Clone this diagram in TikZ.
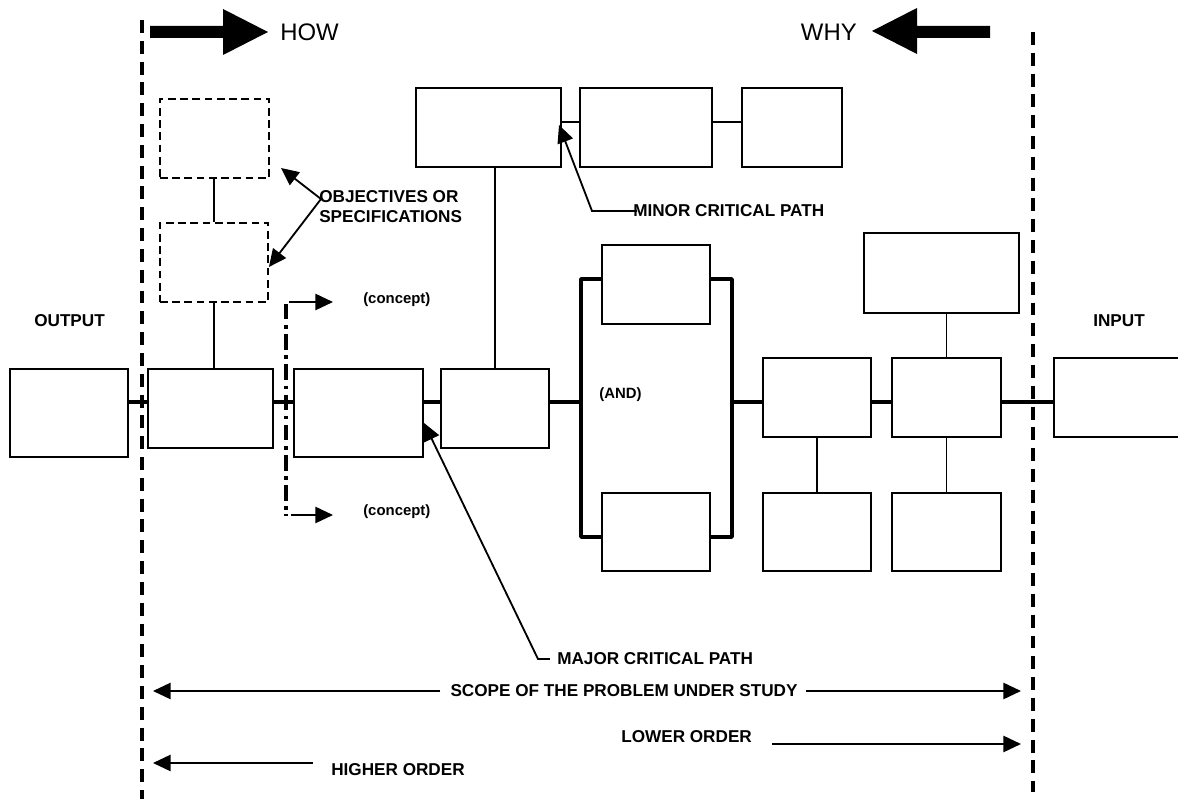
\documentclass[tikz,border=0pt]{standalone}
\usepackage{fontspec}
\setmainfont{Liberation Sans}
\usetikzlibrary{arrows.meta,fit}
\newcommand\lblfont{\fontsize{12.2}{14.2}\selectfont\bfseries}
\newcommand\cptfont{\fontsize{10.6}{12}\selectfont\bfseries}
\newcommand\hwfont{\fontsize{17}{20}\selectfont}
\begin{document}
\begin{tikzpicture}[x=0.025cm,y=-0.025cm,
  box/.style={draw, line width=1.5pt, inner sep=0pt},
  dbox/.style={draw, line width=1.3pt, inner sep=0pt, dash pattern=on 5.5pt off 3.2pt},
  lbl/.style={font=\lblfont, inner sep=0pt},
  cpt/.style={font=\cptfont, inner sep=0pt},
  hw/.style={font=\hwfont, inner sep=0pt},
  link/.style={line width=1.4pt},
  mainlink/.style={line width=2.6pt},
  ptr/.style={line width=1.3pt, -{Triangle[length=12.5pt,width=11.5pt]}},
  border/.style={line width=2.5pt, dash pattern=on 9.2pt off 5.6pt},
]
\useasboundingbox (0,0) rectangle (1178,799);
\fill[white] (0,0) rectangle (1178,799);
\clip (0,0) rectangle (1178,799);

% boundary dashed lines
\draw[border] (142,20) -- (142,799);
\draw[border] (1033,32) -- (1033,792);

% HOW / WHY block arrows
\fill (150,26) -- (223,26) -- (223,9) -- (268,32) -- (223,55) -- (223,38) -- (150,38) -- cycle;
\node[hw, anchor=west] (how) at (280,32) {HOW};
\fill (990,26) -- (917,26) -- (917,8) -- (872,31) -- (917,54) -- (917,38) -- (990,38) -- cycle;
\node[hw, anchor=east] (why) at (857,32) {WHY};

% main chain boxes
\node[box, fit={(10,369) (128,457)}] (out) {};
\node[box, fit={(148,369) (273,448)}] (b1) {};
\node[box, fit={(294,369) (423,457)}] (b2) {};
\node[box, fit={(441,369) (549,448)}] (b3) {};
\node[box, fit={(602,245) (710,324)}] (at) {};
\node[box, fit={(602,493) (710,571)}] (ab) {};
\node[box, fit={(763,358) (871,437)}] (b4) {};
\node[box, fit={(892,358) (1001,437)}] (b5) {};
\node[box, fit={(1054,358) (1190,437)}] (inp) {};
\node[box, fit={(864,233) (1019,313)}] (tr) {};
\node[box, fit={(763,493) (871,571)}] (bb4) {};
\node[box, fit={(892,493) (1001,571)}] (bb5) {};
% top boxes
\node[box, fit={(416,88) (561,167)}] (t1) {};
\node[box, fit={(580,88) (712,167)}] (t2) {};
\node[box, fit={(742,88) (842,167)}] (t3) {};
% objective boxes
\node[dbox, fit={(160,99) (269,178)}] (o1) {};
\node[dbox, fit={(160,223) (268,302)}] (o2) {};

% main line
\coordinate (ml) at (0,402);
\coordinate (bl) at (581,0);
\coordinate (br) at (732,0);
\draw[mainlink] (out.east |- ml) -- (b1.west |- ml);
\draw[mainlink] (b1.east |- ml) -- (b2.west |- ml);
\draw[mainlink] (b2.east |- ml) -- (b3.west |- ml);
\draw[mainlink] (b3.east |- ml) -- (bl |- ml);
\draw[mainlink] (br |- ml) -- (b4.west |- ml);
\draw[mainlink] (b4.east |- ml) -- (b5.west |- ml);
\draw[mainlink] (b5.east |- ml) -- (inp.west |- ml);
% AND bracket
\coordinate (bt) at (0,279);
\coordinate (bb) at (0,537);
\draw[mainlink, line join=round] (at.west |- bt) -- (bl |- bt) -- (bl |- bb) -- (ab.west |- bb);
\draw[mainlink, line join=round] (at.east |- bt) -- (br |- bt) -- (br |- bb) -- (ab.east |- bb);

% thin links
\coordinate (tl) at (0,122);
\draw[link] (t1.east |- tl) -- (t2.west |- tl);
\draw[link] (t2.east |- tl) -- (t3.west |- tl);
\draw[link] (b3.north) -- (b3.north |- t1.south);
\draw[link] (o1.south -| 214,0) -- (o2.north -| 214,0);
\draw[link] (o2.south -| 214,0) -- (b1.north -| 214,0);
\draw[link] (b5.north |- tr.south) -- (b5.north);
\draw[link] (b5.south) -- (bb5.north);
\draw[link] (b4.south) -- (bb4.north);

% labels
\node[lbl, anchor=west] (output) at (34,321) {OUTPUT};
\node[lbl, anchor=west] (input) at (1093,321) {INPUT};
\node[cpt, anchor=west] (and) at (599,395) {(AND)};
\node[cpt, anchor=west] (c1) at (363,300) {(concept)};
\node[cpt, anchor=west] (c2) at (363,512) {(concept)};
\node[lbl, anchor=west, align=left] (obj) at (319,207) {OBJECTIVES OR\\SPECIFICATIONS};
\node[lbl, anchor=west] (minor) at (633,211) {MINOR CRITICAL PATH};
\node[lbl, anchor=west] (major) at (557,659) {MAJOR CRITICAL PATH};
\node[lbl] (scope) at (624,691) {SCOPE OF THE PROBLEM UNDER STUDY};
\node[lbl, anchor=west] (lower) at (621,737) {LOWER ORDER};
\node[lbl, anchor=west] (higher) at (331,770) {HIGHER ORDER};

% concept dash-dot line and arrows
\draw[line width=2.4pt, dash pattern=on 11pt off 4pt on 2.5pt off 4pt] (286,304) -- (286,510);
\coordinate (c1s) at (289,302);
\coordinate (c1t) at (333,302);
\coordinate (c2t) at (333,515);
\draw[ptr] (c1s) -- (c1t);
\draw[line width=1.4pt] (284,515) -- (288,515);
\draw[ptr] (291,515) -- (c2t);

% objectives pointers
\coordinate (oj) at (321,199);
\draw[ptr] (oj) -- (281,168);
\draw[ptr] (oj) -- (o2.east |- 0,267);

% critical path pointers
\draw[ptr] ([xshift=3pt]minor.west) -- (592,211) -- (559,125);
\draw[ptr] ([xshift=-5pt]major.west) -- (538,659) -- (b2.east |- 0,423);

% scope arrows
\coordinate (sl) at (153,691);
\coordinate (sr) at (1021,691);
\draw[ptr] ([xshift=-7pt]scope.west) -- (sl);
\draw[ptr] ([xshift=6pt]scope.east) -- (sr);
\draw[ptr] ([xshift=14pt]lower.east |- 0,744) -- (sr |- 0,744);
\draw[ptr] ([xshift=-13pt]higher.west |- 0,763) -- (sl |- 0,763);
\end{tikzpicture}
\end{document}
